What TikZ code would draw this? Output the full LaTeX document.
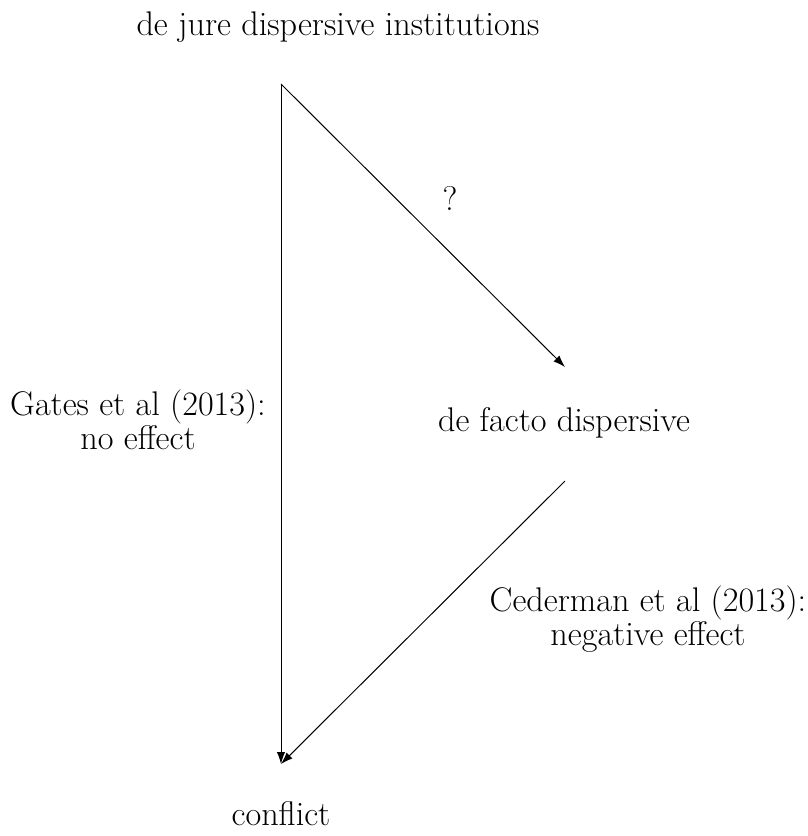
\documentclass[11pt,tikz,border=0pt]{standalone}
\usepackage{tikz}
\usetikzlibrary{arrows.meta,positioning}
\tikzset{
  lbl/.style={align=center, inner sep=0pt, font=\fontsize{17.1}{14.8}\selectfont},
  flow/.style={-{Latex[length=6pt,width=4.2pt]}, line width=0.5pt}
}
\begin{document}
\begin{tikzpicture}[x=0.5pt,y=-0.5pt]
  \useasboundingbox (0,0) rectangle (808,836);
  \node[lbl] (jure) at (338,27) {de jure dispersive institutions};
  \node[lbl] (facto) at (564,423) {de facto dispersive};
  \node[lbl] (conf) at (281,814) {conflict};
  \coordinate (top) at (281,84);
  \coordinate (mid) at (565,367);
  \coordinate (back) at (565,481);
  \coordinate (bot) at (281,764);
  \draw[flow] (top) -- (bot);
  \draw[flow] (top) -- (mid);
  \draw[flow] (back) -- (bot);
  \node[lbl] (q) at (450,198) {?};
  \node[lbl] (gates) at (138,420) {Gates et al (2013):\\no effect};
  \node[lbl] (ceder) at (648,619) {Cederman et al (2013):\\negative effect};
\end{tikzpicture}
\end{document}
